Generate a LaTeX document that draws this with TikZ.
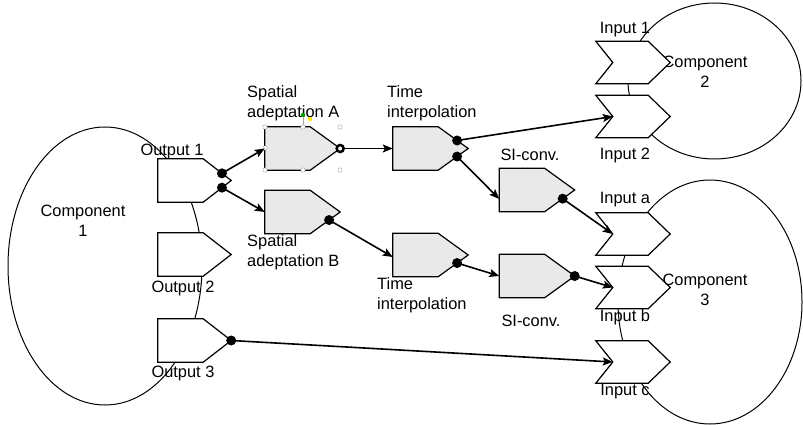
\documentclass[tikz,border=0pt]{standalone}
\usepackage{fontspec}
\setmainfont{Liberation Sans}
\usetikzlibrary{shapes.geometric, arrows.meta, positioning, calc}
\newcommand\diagfont{\fontsize{16.4}{20}\selectfont}
\tikzset{
  compshape/.style={
    draw, ellipse, line width=1pt, inner sep=0pt
  },
  complabel/.style={
    align=center, font=\diagfont, inner sep=0pt
  },
  outport/.style={
    rectangle, minimum width=73pt, minimum height=43pt, inner sep=0pt
  },
  inport/.style={
    rectangle, minimum width=74pt, minimum height=42pt, inner sep=0pt
  },
  convbox/.style={
    rectangle, minimum width=75pt, minimum height=43pt, inner sep=0pt
  },
  portline/.style={draw, fill=white, line width=1.2pt, line join=miter},
  convline/.style={draw, fill=gray!17, line width=1.2pt, line join=miter},
  portlabel/.style={font=\diagfont, inner sep=0pt},
  steplabel/.style={font=\diagfont, align=left, inner sep=0pt, anchor=west},
  dataflow/.style={-{Stealth[length=10pt,width=8pt,inset=2pt]}, line width=1.6pt},
  portdot/.style={fill=black},
  handle/.style={draw=gray!70, fill=white, line width=0.4pt},
}

\begin{document}
\begin{tikzpicture}[x=1pt, y=-1pt]
  \useasboundingbox (0,0) rectangle (803,425);

  % Components
  \node[compshape, minimum width=194pt, minimum height=278pt] (comp1) at (105,266) {};
  \node[compshape, minimum width=173pt, minimum height=156pt] (comp2) at (714.5,81) {};
  \node[compshape, minimum width=184pt, minimum height=244pt] (comp3) at (710,302) {};
  \node[complabel] (comp1txt) at (83,221) {Component\\1};
  \node[complabel] (comp2txt) at (705,72) {Component\\2};
  \node[complabel] (comp3txt) at (705,290) {Component\\3};

  % Output ports
  \node[outport] (out1) at (194.5,180.5) {};
  \node[outport] (out2) at (194.5,254.5) {};
  \node[outport] (out3) at (194.5,340.5) {};
  \foreach \n in {out1, out2, out3}
    \path[portline] (\n.north west) -- ([xshift=-28pt]\n.north east) -- (\n.east)
      -- ([xshift=-28pt]\n.south east) -- (\n.south west) -- cycle;
  \node[portlabel] (out1txt) at (172,151) {Output 1};
  \node[portlabel] (out2txt) at (183,288) {Output 2};
  \node[portlabel] (out3txt) at (183,373) {Output 3};

  % Input ports
  \node[inport] (in1) at (633,62.5) {};
  \node[inport] (in2) at (633,116.5) {};
  \node[inport] (ina) at (633,234) {};
  \node[inport] (inb) at (633,287.5) {};
  \node[inport] (inc) at (633,362) {};
  \foreach \n in {in1, in2, ina, inb, inc}
    \path[portline] (\n.north west) -- ([xshift=-22pt]\n.north east) -- (\n.east)
      -- ([xshift=-22pt]\n.south east) -- (\n.south west)
      -- ([xshift=17pt]\n.west) -- cycle;
  \node[portlabel] (in1txt) at (625,30) {Input 1};
  \node[portlabel] (in2txt) at (625,155) {Input 2};
  \node[portlabel] (inatxt) at (625,200) {Input a};
  \node[portlabel] (inbtxt) at (625,317) {Input b};
  \node[portlabel] (inctxt) at (625,392) {Input c};

  % Conversion steps
  \node[convbox] (spA) at (302.5,148.5) {};
  \node[convbox] (timeA) at (430.5,148.5) {};
  \node[convbox] (spB) at (302.5,212) {};
  \node[convbox] (timeB) at (430.5,255) {};
  \node[convbox] (siA) at (537,190) {};
  \node[convbox] (siB) at (537,276) {};
  \foreach \n in {spA, timeA, spB, timeB, siA, siB}
    \path[convline] (\n.north west) -- ([xshift=-30pt]\n.north east) -- (\n.east)
      -- ([xshift=-30pt]\n.south east) -- (\n.south west) -- cycle;
  \node[steplabel] (spAtxt) at (247,103) {Spatial\\adeptation A};
  \node[steplabel] (timeAtxt) at (387,103) {Time\\interpolation};
  \node[steplabel] (spBtxt) at (247,252) {Spatial\\adeptation B};
  \node[steplabel] (timeBtxt) at (377,295) {Time\\interpolation};
  \node[portlabel] (siAtxt) at (530,155) {SI-conv.};
  \node[portlabel] (siBtxt) at (531,321) {SI-conv.};

  % Selection handles on spatial adeptation A
  \draw[gray!70, line width=0.4pt] (303,115) -- (303,127);
  \foreach \hx/\hy in {265/127, 303/127, 340/127, 265/148, 265/170, 303/170, 340/170}
    \draw[handle] (\hx,\hy) circle (2.2);
  \fill[green!60!black] (303,115) circle (2.2);
  \fill[yellow!90!orange] (310,119) circle (2.2);

  % Port dots
  \coordinate (out1up) at ($(out1.east)!0.33!([xshift=-28pt]out1.north east)$);
  \coordinate (out1dn) at ($(out1.east)!0.33!([xshift=-28pt]out1.south east)$);
  \coordinate (timeAup) at ($(timeA.east)!0.37!([xshift=-30pt]timeA.north east)$);
  \coordinate (timeAdn) at ($(timeA.east)!0.37!([xshift=-30pt]timeA.south east)$);
  \coordinate (spBdn) at ($(spB.east)!0.37!([xshift=-30pt]spB.south east)$);
  \coordinate (timeBdn) at ($(timeB.east)!0.37!([xshift=-30pt]timeB.south east)$);
  \coordinate (siAdn) at ($(siA.east)!0.4!([xshift=-30pt]siA.south east)$);

  % Data flow
  \draw[dataflow] (out1up) -- (spA.west);
  \draw[dataflow] (out1dn) -- (spB.west);
  \draw[dataflow] (spA.east) -- (timeA.west);
  \draw[dataflow] (timeAup) -- ([xshift=17pt]in2.west);
  \draw[dataflow] (timeAdn) -- ([yshift=-9pt]siA.west);
  \draw[dataflow] (siAdn) -- ([xshift=17pt]ina.west);
  \draw[dataflow] (spBdn) -- ([yshift=-2pt]timeB.west);
  \draw[dataflow] (timeBdn) -- (siB.west);
  \draw[dataflow] (siB.east) -- ([xshift=17pt]inb.west);
  \draw[dataflow] (out3.east) -- ([xshift=17pt]inc.west);

  \foreach \pd in {out1up, out1dn, out3.east, timeAup, timeAdn,
                   siAdn, spBdn, timeBdn, siB.east}
    \fill[portdot] (\pd) circle (5);
  \draw[line width=2.5pt, fill=white] (spA.east) circle (3.5);
\end{tikzpicture}
\end{document}
